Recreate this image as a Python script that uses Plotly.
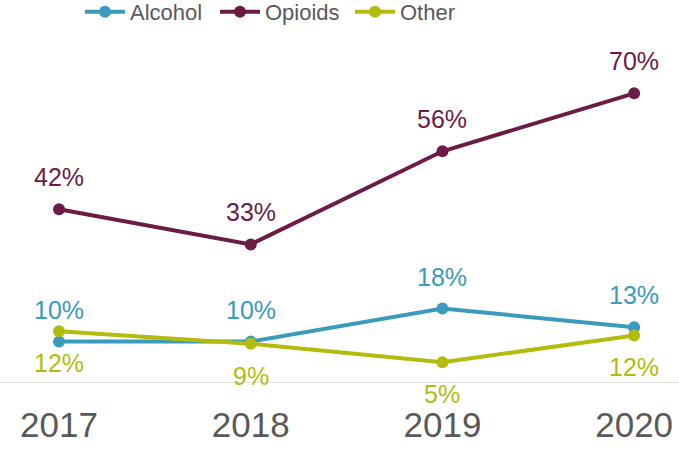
import plotly.graph_objects as go

years = [2017, 2018, 2019, 2020]
alcohol = [10, 10, 18, 13]
opioids = [42, 33, 56, 70]
other = [12, 9, 5, 12]
# plotted positions (slightly differ from labels in reference)
alcohol_pos = [10, 10, 18, 13.5]
other_pos = [12.5, 9.5, 5, 11.5]
opioids_pos = [42, 33.5, 56, 70]

colors = {"Alcohol": "#3A9BBD", "Opioids": "#6B1B45", "Other": "#B3BC0C"}
font = "Liberation Sans, Arial, sans-serif"

fig = go.Figure()
series = [
    ("Alcohol", alcohol_pos, alcohol, 32),
    ("Opioids", opioids_pos, opioids, 32),
    ("Other", other_pos, other, -32),
]
for name, pos, lab, shift in series:
    fig.add_trace(go.Scatter(
        x=years, y=pos, name=name, mode="lines+markers",
        line=dict(color=colors[name], width=4),
        marker=dict(color=colors[name], size=12),
        hoverinfo="skip",
    ))
    for x, y, v in zip(years, pos, lab):
        fig.add_annotation(x=x, y=y, text=f"{v}%", showarrow=False,
                           yshift=shift, font=dict(size=25, color=colors[name], family=font))

fig.update_layout(
    width=679, height=449,
    margin=dict(l=0, r=0, t=40, b=66, autoexpand=False),
    paper_bgcolor="white", plot_bgcolor="white",
    font=dict(family=font, color="#595959"),
    showlegend=True,
    legend=dict(orientation="h", x=80/679, xanchor="left", y=1 + 28/343, yanchor="middle",
                font=dict(size=22, color="#595959"), itemwidth=40,
                entrywidth=80, entrywidthmode="pixels",
                bgcolor="rgba(0,0,0,0)", traceorder="normal"),
    xaxis=dict(range=[2016.692, 2020.234], tickvals=years, ticktext=[str(y) for y in years],
               showgrid=False, zeroline=False, showline=False, automargin=False,
               ticks="outside", ticklen=11, tickcolor="rgba(0,0,0,0)",
               tickfont=dict(size=35, color="#595959", family=font)),
    yaxis=dict(range=[0, 82.9], showgrid=False, zeroline=False,
               showticklabels=False, showline=False, automargin=False),
)
fig.add_shape(type="line", xref="paper", x0=0, x1=1, yref="y", y0=0, y1=0,
              line=dict(color="#D9D9D9", width=1.5), layer="below")

fig.write_html("out.html", config={"displayModeBar": False},
               post_script="document.body.style.margin='0';")
